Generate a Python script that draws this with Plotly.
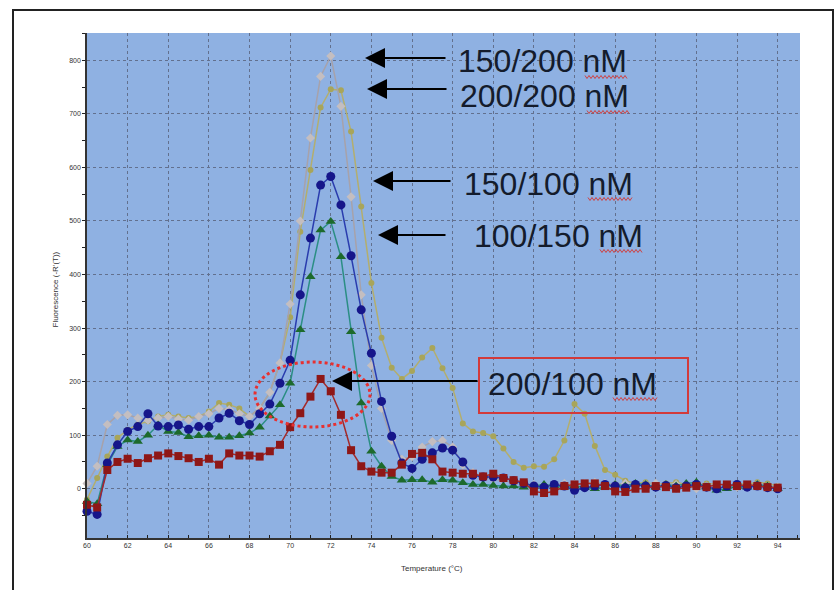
import plotly.graph_objects as go

# ---------------- data ----------------
temps = [60 + 0.5 * i for i in range(69)]  # 60 .. 94 °C

red_200_100 = [-30, -35, 35, 50, 56, 48, 57, 62, 66, 61,
               57, 50, 56, 45, 66, 62, 62, 60, 70, 82,
               115, 141, 172, 205, 182, 138, 72, 42, 32, 30,
               30, 45, 65, 67, 55, 32, 30, 28, 28, 23,
               28, 20, 16, 12, -5, -8, -5, 5, 8, 10,
               10, 5, -5, -6, 0, 0, 5, 3, 0, 2,
               5, 3, 8, 8, 5, 8, 5, 3, 2]

blue_150_100 = [-42, -48, 48, 82, 107, 116, 140, 117, 116, 119,
                111, 116, 116, 132, 141, 127, 120, 140, 158, 197,
                240, 362, 468, 567, 583, 530, 435, 334, 253, 163,
                98, 48, 38, 55, 67, 76, 72, 50, 25, 22,
                22, 20, 15, 10, 5, 3, 8, 5, -3, 2,
                5, 8, 5, 2, 8, 5, 3, 6, 2, 5,
                8, 3, 0, 5, 8, 3, 5, 2, 0]

green_100_150 = [-24, -28, 45, 79, 91, 88, 100, 119, 107, 105,
                 97, 99, 100, 96, 96, 99, 104, 115, 136, 157,
                 197, 297, 396, 483, 499, 433, 293, 160, 70, 42,
                 23, 16, 17, 17, 12, 17, 16, 11, 8, 8,
                 6, 5, 5, 3, 5, 8, 5, 3, 5, 2,
                 0, 3, 8, 5, 10, 8, 3, 8, 5, 10,
                 12, 3, -3, 0, 5, 3, 8, 5, 0]

gray_150_200 = [10, 42, 120, 137, 138, 132, 128, 132, 135, 130,
                128, 135, 140, 150, 148, 140, 135, 150, 180, 235,
                345, 500, 655, 770, 808, 714, 545, 362, 230, 150,
                90, 55, 60, 78, 88, 90, 78, 45, 30, 22,
                18, 15, 12, 10, 8, 5, 8, 10, 8, 10,
                12, 10, 8, 10, 5, 8, 10, 5, 8, 5,
                0, 5, 8, 5, 3, 5, 8, 5, 3]

olive_200_200 = [-20, 20, 60, 95, 110, 120, 126, 135, 138, 135,
                 132, 135, 144, 160, 157, 150, 135, 150, 180, 235,
                 320, 480, 595, 712, 746, 744, 667, 527, 384, 282,
                 226, 205, 220, 245, 263, 225, 188, 122, 107, 104,
                 98, 75, 50, 39, 42, 41, 55, 90, 158, 140,
                 80, 35, 26, 15, 10, 12, 8, 10, 12, 8,
                 5, 10, 8, 5, 10, 8, 12, 10, 5]

x_ticks = list(range(60, 95, 2))
y_ticks = list(range(0, 900, 100))

labels = ["150/200 nM", "200/200 nM", "150/100 nM", "100/150 nM", "200/100 nM"]

# ---------------- geometry helpers ----------------
W, H = 840, 590
L, R, T, B = 87, 800, 33, 538


def px(x):
    return (x - L) / (R - L)


def py(y):
    return (B - y) / (B - T)


fig = go.Figure()

series = [
    (olive_200_200, "200/200 nM", "#b3ae6e", "#a8a55a", "circle", 6),
    (gray_150_200, "150/200 nM", "#a7a2aa", "#c4bec0", "diamond", 7),
    (green_100_150, "100/150 nM", "#2b8e84", "#1d6a2c", "triangle-up", 9),
    (blue_150_100, "150/100 nM", "#2a3cae", "#16168a", "circle", 9),
    (red_200_100, "200/100 nM", "#a42a2a", "#8e1717", "square", 8),
]
for vals, name, lc, mc, sym, sz in series:
    fig.add_trace(go.Scatter(
        x=temps, y=vals, name=name, mode="lines+markers",
        line=dict(color=lc, width=1.5),
        marker=dict(color=mc, symbol=sym, size=sz, line=dict(width=0)),
        cliponaxis=False,
    ))

# ---------------- annotations ----------------
ann = []
txt_font = dict(family="Liberation Sans, Arial, sans-serif", size=32, color="#141c2c")
text_pos = [(542, 61), (544, 96), (548, 184), (558, 236), (572, 384)]
for (cx, cy), lab in zip(text_pos, labels):
    ann.append(dict(x=px(cx), y=py(cy), xref="paper", yref="paper", text=lab,
                    showarrow=False, xanchor="center", yanchor="middle", font=txt_font))

arrows = [((365, 58), (447, 58)), ((367, 89), (448, 89)), ((373, 181), (452, 181)),
          ((378, 235), (447, 235)), ((332, 381), (479, 381))]
for (tx, ty), (sx, sy) in arrows:
    ann.append(dict(x=px(tx), y=py(ty), xref="paper", yref="paper", text="",
                    showarrow=True, ax=sx - tx, ay=sy - ty, arrowhead=2,
                    arrowsize=2.0, arrowwidth=2, arrowcolor="black"))

ann.append(dict(x=px(48), y=py(290), xref="paper", yref="paper",
                text="Fluorescence (-R'(T))", textangle=-90, showarrow=False,
                font=dict(family="Liberation Sans, Arial", size=8, color="#333")))
ann.append(dict(x=px(432), y=py(575), xref="paper", yref="paper",
                text="Temperature (°C)", showarrow=False,
                font=dict(family="Liberation Sans, Arial", size=8, color="#333")))

# ---------------- shapes ----------------
shapes = []
shapes.append(dict(type="rect", xref="paper", yref="paper",
                   x0=px(13), x1=px(833), y0=py(593), y1=py(10),
                   line=dict(color="#222", width=2), layer="above"))
shapes.append(dict(type="rect", xref="paper", yref="paper",
                   x0=px(479), x1=px(688), y0=py(413), y1=py(358),
                   line=dict(color="#d23a3a", width=2)))
shapes.append(dict(type="circle", xref="paper", yref="paper",
                   x0=px(255), x1=px(370), y0=py(427), y1=py(362),
                   line=dict(color="#e83030", width=3, dash="dot")))


def squiggle(x0, x1, y):
    pts = []
    k = 0
    x = x0
    while x <= x1:
        pts.append((x, y + (1.5 if k % 2 else -1.5)))
        x += 2
        k += 1
    return "M " + " L ".join(f"{px(a):.5f},{py(b):.5f}" for a, b in pts)


for x0, x1, yy in [(585, 627, 77), (587, 630, 112), (588, 633, 199), (600, 642, 251), (613, 658, 399)]:
    shapes.append(dict(type="path", xref="paper", yref="paper", path=squiggle(x0, x1, yy),
                       line=dict(color="#d04040", width=1)))

fig.update_layout(
    width=W, height=H,
    margin=dict(l=L, r=W - R, t=T, b=H - B),
    paper_bgcolor="white",
    plot_bgcolor="#8fb1e2",
    showlegend=False,
    annotations=ann,
    shapes=shapes,
    font=dict(family="Liberation Sans, Arial", size=7, color="#333"),
)
fig.update_xaxes(
    range=[60, 95.1], tickvals=x_ticks, ticktext=[str(v) for v in x_ticks],
    showgrid=True, gridcolor="#62708e", griddash="dot", gridwidth=1,
    showline=True, linecolor="#333", linewidth=1.5,
    ticks="inside", ticklen=3, tickcolor="#222",
    minor=dict(dtick=1, ticks="inside", ticklen=3, tickcolor="#222", showgrid=False),
    zeroline=False, tickfont=dict(size=7, color="#333"),
)
fig.update_yaxes(
    range=[-92, 851], tickvals=y_ticks, ticktext=[str(v) for v in y_ticks],
    showgrid=True, gridcolor="#62708e", griddash="dot", gridwidth=1,
    showline=True, linecolor="#333", linewidth=1.5,
    ticks="outside", ticklen=3, tickcolor="#222",
    minor=dict(dtick=50, ticks="outside", ticklen=3, tickcolor="#222", showgrid=False),
    zeroline=False, tickfont=dict(size=7, color="#333"),
)

fig.write_html("out.html")
